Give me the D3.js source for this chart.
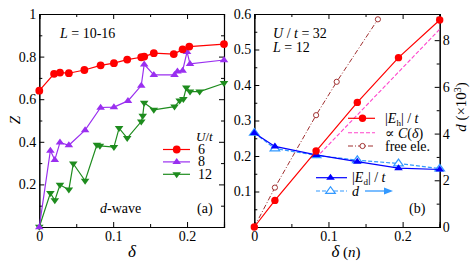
<!DOCTYPE html>
<html>
<head>
<meta charset="utf-8">
<script src="https://cdn.jsdelivr.net/npm/d3@7"></script>
<style>
  body { margin: 0; background: #fff; }
  svg text { font-family: "Liberation Serif", "DejaVu Serif", serif; font-size: 14px; fill: #000; }
  .tick text { font-size: 14px; }
  .domain { stroke: #000; }
  .tick line { stroke: #000; }
</style>
</head>
<body>
<div id="chart"></div>
<script>
// panel (a): Z vs delta for U/t = 6, 8, 12
var deltaA6 = [0, 0.020, 0.028, 0.040, 0.061, 0.083, 0.101, 0.119, 0.138, 0.142, 0.155, 0.182, 0.194, 0.203, 0.250];
var zA6 = [0.640, 0.719, 0.725, 0.722, 0.737, 0.759, 0.769, 0.786, 0.797, 0.800, 0.816, 0.812, 0.834, 0.847, 0.859];

var deltaA8 = [0, 0.015, 0.021, 0.028, 0.040, 0.062, 0.083, 0.101, 0.120, 0.138, 0.142, 0.155, 0.183, 0.187, 0.194, 0.200, 0.204, 0.250];
var zA8 = [0, 0.359, 0.315, 0.397, 0.384, 0.455, 0.561, 0.563, 0.592, 0.664, 0.764, 0.714, 0.714, 0.731, 0.734, 0.822, 0.766, 0.784];

var deltaA12 = [0, 0.015, 0.021, 0.028, 0.040, 0.046, 0.062, 0.078, 0.082, 0.101, 0.108, 0.119, 0.138, 0.140, 0.142, 0.155, 0.183, 0.190, 0.195, 0.199, 0.204, 0.217, 0.250];
var zA12 = [0, 0.159, 0.125, 0.198, 0.175, 0.297, 0.217, 0.386, 0.381, 0.375, 0.464, 0.417, 0.495, 0.522, 0.583, 0.550, 0.565, 0.593, 0.600, 0.654, 0.636, 0.636, 0.675];

var legendA = ["6", "8", "12"];

// panel (b): U/t = 32, L = 12
var deltaB = [0, 1 / 36, 3 / 36, 5 / 36, 7 / 36, 9 / 36];
var eh = [0, 0.075, 0.214, 0.351, 0.477, 0.583];
var ed = [0.265, 0.227, 0.203, 0.184, 0.166, 0.162];
var dVal = [4.03, 3.36, 3.07, 2.86, 2.72, 2.50];
var deltaFree = [0, 1 / 36, 3 / 36, 4 / 36, 6 / 36];
var freeE = [0, 0.111, 0.315, 0.409, 0.585];
var deltaC = [3 / 36, 0.25];
var cVal = [0.195, 0.557];

var xTicks = [0, 0.1, 0.2];

var red = "#ff0000", purple = "#9a2ff0", green = "#1e8c1e";
var blue = "#0000ff", lightBlue = "#3399ff", pink = "#ff44cc", brown = "#a03030";

var svg = d3.select("#chart").append("svg")
    .attr("width", 474)
    .attr("height", 266);

function zip(xs, ys) {
    return xs.map(function (d, i) { return [d, ys[i]]; });
}

// triangle marker path (up or down)
function tri(cx, cy, s, down) {
    var h = s * 0.9;
    if (down) return "M" + (cx - s) + "," + (cy - h * 0.55) + "L" + (cx + s) + "," + (cy - h * 0.55) + "L" + cx + "," + (cy + h * 1.0) + "Z";
    return "M" + (cx - s) + "," + (cy + h * 0.55) + "L" + (cx + s) + "," + (cy + h * 0.55) + "L" + cx + "," + (cy - h * 1.0) + "Z";
}

// draws inward ticks, major + minor
function frameAxes(g, x, y, w, h, xMinor, yMajor, yMinor, yFmt, mirrorY) {
    g.append("g").attr("transform", "translate(0," + h + ")")
        .call(d3.axisBottom(x).tickValues(xMinor).tickSize(-3).tickFormat(""));
    g.append("g").attr("transform", "translate(0," + h + ")")
        .call(d3.axisBottom(x).tickValues(xTicks).tickSize(-5).tickPadding(4).tickFormat(d3.format("")));
    g.append("g")
        .call(d3.axisTop(x).tickValues(xMinor).tickSize(-3).tickFormat(""));
    g.append("g")
        .call(d3.axisTop(x).tickValues(xTicks).tickSize(-5).tickFormat(""));
    g.append("g")
        .call(d3.axisLeft(y).tickValues(yMinor).tickSize(-3).tickFormat(""));
    g.append("g")
        .call(d3.axisLeft(y).tickValues(yMajor).tickSize(-5).tickPadding(3).tickFormat(yFmt));
    if (mirrorY) {
        g.append("g").attr("transform", "translate(" + w + ",0)")
            .call(d3.axisRight(y).tickValues(yMinor).tickSize(-3).tickFormat(""));
        g.append("g").attr("transform", "translate(" + w + ",0)")
            .call(d3.axisRight(y).tickValues(yMajor).tickSize(-5).tickFormat(""));
    }
    g.selectAll(".domain").attr("stroke-width", 1.1);
}

// ---------------- panel (a) ----------------
var ax0 = 39.3, ay0 = 14, aw = 184.7, ah = 213;
var ga = svg.append("g").attr("transform", "translate(" + ax0 + "," + ay0 + ")");
var xa = d3.scaleLinear().domain([0, 0.25]).range([0, aw]);
var ya = d3.scaleLinear().domain([0, 1]).range([ah, 0]);

frameAxes(ga, xa, ya, aw, ah,
    [0.05, 0.15, 0.25],
    [0.2, 0.4, 0.6, 0.8, 1],
    [0.1, 0.3, 0.5, 0.7, 0.9],
    function (d) { return d === 1 ? "1" : d3.format(".1f")(d); }, true);

var lineA = d3.line().x(function (d) { return xa(d[0]); }).y(function (d) { return ya(d[1]); });

var s12 = zip(deltaA12, zA12), s8 = zip(deltaA8, zA8), s6 = zip(deltaA6, zA6);

ga.append("path").datum(s12).attr("d", lineA).attr("fill", "none").attr("stroke", green).attr("stroke-width", 1.2);
ga.selectAll(".m12").data(s12).enter().append("path")
    .attr("d", function (d) { return tri(xa(d[0]), ya(d[1]), 4.3, true); })
    .attr("fill", green);

ga.append("path").datum(s8).attr("d", lineA).attr("fill", "none").attr("stroke", purple).attr("stroke-width", 1.2);
ga.selectAll(".m8").data(s8).enter().append("path")
    .attr("d", function (d) { return tri(xa(d[0]), ya(d[1]), 4.3, false); })
    .attr("fill", purple);

ga.append("path").datum(s6).attr("d", lineA).attr("fill", "none").attr("stroke", red).attr("stroke-width", 1.2);
ga.selectAll(".m6").data(s6).enter().append("circle")
    .attr("cx", function (d) { return xa(d[0]); })
    .attr("cy", function (d) { return ya(d[1]); })
    .attr("r", 3.9).attr("fill", red);

// legend (a)
var legA = svg.append("g");
var ut = legA.append("text").attr("x", 196).attr("y", 141).style("font-size", "13px");
ut.append("tspan").attr("font-style", "italic").text("U");
ut.append("tspan").text("/");
ut.append("tspan").attr("font-style", "italic").text("t");
var legColors = [red, purple, green];
legendA.forEach(function (lab, i) {
    var yy = 149.5 + i * 12.4;
    legA.append("line").attr("x1", 163).attr("x2", 190).attr("y1", yy).attr("y2", yy)
        .attr("stroke", legColors[i]).attr("stroke-width", 1.2);
    if (i === 0) legA.append("circle").attr("cx", 176.7).attr("cy", yy).attr("r", 3.9).attr("fill", red);
    else legA.append("path").attr("d", tri(176.7, yy, 4.3, i === 2)).attr("fill", legColors[i]);
    legA.append("text").attr("x", 198).attr("y", yy + 4.5).text(lab);
});

var la = svg.append("text").attr("x", 60).attr("y", 38);
la.append("tspan").attr("font-style", "italic").text("L");
la.append("tspan").text(" = 10-16");

var dw = svg.append("text").attr("x", 100).attr("y", 213);
dw.append("tspan").attr("font-style", "italic").text("d");
dw.append("tspan").text("-wave");
svg.append("text").attr("x", 197).attr("y", 213).text("(a)");

svg.append("text").attr("x", 132).attr("y", 257).attr("text-anchor", "middle")
    .attr("font-style", "italic").style("font-size", "17px").text("δ");
svg.append("text").attr("transform", "translate(20,120) rotate(-90)").attr("text-anchor", "middle")
    .attr("font-style", "italic").style("font-size", "15px").text("Z");

// ---------------- panel (b) ----------------
var bx0 = 254.3, by0 = 14, bw = 185.4, bh = 213;
var gb = svg.append("g").attr("transform", "translate(" + bx0 + "," + by0 + ")");
var xb = d3.scaleLinear().domain([0, 0.25]).range([0, bw]);
var yb = d3.scaleLinear().domain([0, 0.6]).range([bh, 0]);
var yd = d3.scaleLinear().domain([0, 9.12]).range([bh, 0]);

frameAxes(gb, xb, yb, bw, bh,
    [0.05, 0.15, 0.25],
    [0.1, 0.2, 0.3, 0.4, 0.5, 0.6],
    [0.05, 0.15, 0.25, 0.35, 0.45, 0.55],
    d3.format(".1f"), false);
gb.append("g").attr("transform", "translate(" + bw + ",0)")
    .call(d3.axisRight(yd).tickValues([1, 3, 5, 7, 9]).tickSize(-3).tickFormat(""));
gb.append("g").attr("transform", "translate(" + bw + ",0)")
    .call(d3.axisRight(yd).tickValues([0, 2, 4, 6, 8]).tickSize(-5).tickPadding(3).tickFormat(d3.format("d")));
gb.selectAll(".domain").attr("stroke-width", 1.1);

var lineB = d3.line().x(function (d) { return xb(d[0]); }).y(function (d) { return yb(d[1]); });
var lineD = d3.line().x(function (d) { return xb(d[0]); }).y(function (d) { return yd(d[1]); });

var sC = zip(deltaC, cVal), sF = zip(deltaFree, freeE), sH = zip(deltaB, eh);
var sE = zip(deltaB, ed), sD = zip(deltaB, dVal);

gb.append("path").datum(sC).attr("d", lineB).attr("fill", "none")
    .attr("stroke", pink).attr("stroke-width", 1.1).attr("stroke-dasharray", "4,2");

gb.append("path").datum(sF).attr("d", lineB).attr("fill", "none")
    .attr("stroke", brown).attr("stroke-width", 1).attr("stroke-dasharray", "5,2,1,2");
gb.selectAll(".mf").data(sF).enter().append("circle")
    .attr("cx", function (d) { return xb(d[0]); })
    .attr("cy", function (d) { return yb(d[1]); })
    .attr("r", 2.6).attr("fill", "#fff").attr("stroke", brown).attr("stroke-width", 1);

gb.append("path").datum(sD).attr("d", lineD).attr("fill", "none")
    .attr("stroke", lightBlue).attr("stroke-width", 1.2).attr("stroke-dasharray", "4,2");
gb.selectAll(".md").data(sD).enter().append("path")
    .attr("d", function (d) { return tri(xb(d[0]), yd(d[1]), 4.8, false); })
    .attr("fill", "#fff").attr("stroke", lightBlue).attr("stroke-width", 1.2);

gb.append("path").datum(sE).attr("d", lineB).attr("fill", "none")
    .attr("stroke", blue).attr("stroke-width", 1.2);
gb.selectAll(".me").data(sE).enter().append("path")
    .attr("d", function (d) { return tri(xb(d[0]), yb(d[1]), 4.3, false); })
    .attr("fill", blue);

gb.append("path").datum(sH).attr("d", lineB).attr("fill", "none")
    .attr("stroke", red).attr("stroke-width", 1.2);
gb.selectAll(".mh").data(sH).enter().append("circle")
    .attr("cx", function (d) { return xb(d[0]); })
    .attr("cy", function (d) { return yb(d[1]); })
    .attr("r", 3.7).attr("fill", red);

// legend (b), upper
var legB = svg.append("g");
legB.append("line").attr("x1", 348).attr("x2", 375).attr("y1", 118.3).attr("y2", 118.3).attr("stroke", red).attr("stroke-width", 1.2);
legB.append("circle").attr("cx", 362.5).attr("cy", 118.3).attr("r", 3.7).attr("fill", red);
var t1 = legB.append("text").attr("x", 385).attr("y", 123);
t1.append("tspan").text("|");
t1.append("tspan").attr("font-style", "italic").text("E");
t1.append("tspan").attr("dy", 3).style("font-size", "9px").text("h");
t1.append("tspan").attr("dy", -3).text("| / ");
t1.append("tspan").attr("font-style", "italic").text("t");

legB.append("line").attr("x1", 348).attr("x2", 375).attr("y1", 132.7).attr("y2", 132.7)
    .attr("stroke", pink).attr("stroke-width", 1.1).attr("stroke-dasharray", "4,2");
var t2 = legB.append("text").attr("x", 385).attr("y", 137.5);
t2.append("tspan").text("∝ ");
t2.append("tspan").attr("font-style", "italic").text("C");
t2.append("tspan").text("(");
t2.append("tspan").attr("font-style", "italic").text("δ");
t2.append("tspan").text(")");

legB.append("line").attr("x1", 348).attr("x2", 375).attr("y1", 146).attr("y2", 146)
    .attr("stroke", brown).attr("stroke-width", 1).attr("stroke-dasharray", "5,2,1,2");
legB.append("circle").attr("cx", 362.5).attr("cy", 146).attr("r", 2.6).attr("fill", "#fff").attr("stroke", brown);
legB.append("text").attr("x", 385).attr("y", 150.5).text("free ele.");

// legend (b), lower
legB.append("line").attr("x1", 316).attr("x2", 347).attr("y1", 177.7).attr("y2", 177.7).attr("stroke", blue).attr("stroke-width", 1.2);
legB.append("path").attr("d", tri(330.5, 177.7, 4.3, false)).attr("fill", blue);
var t3 = legB.append("text").attr("x", 352).attr("y", 182);
t3.append("tspan").text("|");
t3.append("tspan").attr("font-style", "italic").text("E");
t3.append("tspan").attr("dy", 3).style("font-size", "9px").text("d");
t3.append("tspan").attr("dy", -3).text("| / ");
t3.append("tspan").attr("font-style", "italic").text("t");

legB.append("line").attr("x1", 316).attr("x2", 347).attr("y1", 191).attr("y2", 191)
    .attr("stroke", lightBlue).attr("stroke-width", 1.2).attr("stroke-dasharray", "4,2");
legB.append("path").attr("d", tri(330.5, 191, 4.8, false)).attr("fill", "#fff").attr("stroke", lightBlue).attr("stroke-width", 1.2);
legB.append("text").attr("x", 352).attr("y", 195.5).attr("font-style", "italic").text("d");
legB.append("line").attr("x1", 365).attr("x2", 385).attr("y1", 191).attr("y2", 191).attr("stroke", lightBlue).attr("stroke-width", 1.3);
legB.append("path").attr("d", "M384,187.5L393,191L384,194.5Z").attr("fill", lightBlue);

svg.append("text").attr("x", 409).attr("y", 213).text("(b)");

var ub = svg.append("text").attr("x", 273).attr("y", 38);
ub.append("tspan").attr("font-style", "italic").text("U");
ub.append("tspan").text(" / ");
ub.append("tspan").attr("font-style", "italic").text("t");
ub.append("tspan").text(" = 32");
var lb = svg.append("text").attr("x", 273).attr("y", 52);
lb.append("tspan").attr("font-style", "italic").text("L");
lb.append("tspan").text(" = 12");

var xl = svg.append("text").attr("x", 346).attr("y", 257).attr("text-anchor", "middle").style("font-size", "15px");
xl.append("tspan").attr("font-style", "italic").style("font-size", "17px").text("δ");
xl.append("tspan").text("  (");
xl.append("tspan").attr("font-style", "italic").text("n");
xl.append("tspan").text(")");

var yl = svg.append("text").attr("transform", "translate(466,107) rotate(-90)").attr("text-anchor", "middle").style("font-size", "15px");
yl.append("tspan").attr("font-style", "italic").text("d");
yl.append("tspan").text("  (×10");
yl.append("tspan").attr("dy", -5).style("font-size", "10px").text("3");
yl.append("tspan").attr("dy", 5).text(")");
</script>
</body>
</html>
